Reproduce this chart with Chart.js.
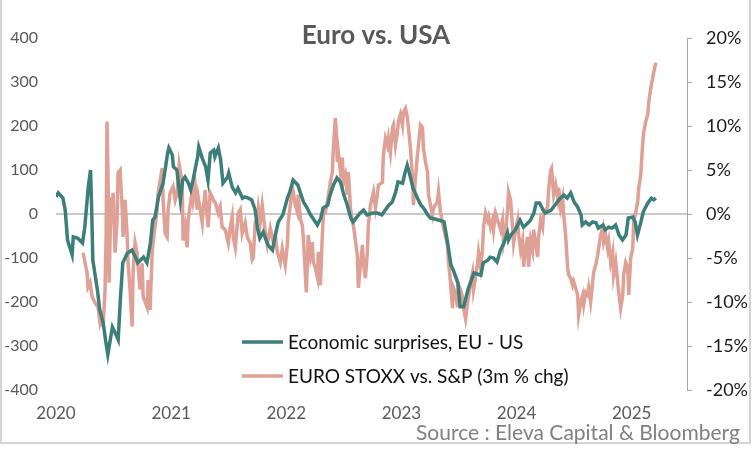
<!DOCTYPE html>
<html>
<head>
<meta charset="utf-8">
<script src="https://cdn.jsdelivr.net/npm/chart.js@4/dist/chart.umd.min.js"></script>
<style>
  html, body { margin: 0; padding: 0; background: #ffffff; }
  #wrap { width: 752px; height: 451px; }
</style>
</head>
<body>
<div id="wrap"><canvas id="c" width="752" height="451"></canvas></div>
<script>
// ---------------- DATA ----------------
const chartTitle = "Euro vs. USA";
const sourceText = "Source : Eleva Capital & Bloomberg";
const seriesLabels = ["Economic surprises, EU - US", "EURO STOXX vs. S&P (3m % chg)"];
const yearTicks = [2020, 2021, 2022, 2023, 2024, 2025];
const leftTicks = [-400, -300, -200, -100, 0, 100, 200, 300, 400];
const rightTicks = [-20, -15, -10, -5, 0, 5, 10, 15, 20];

// Economic surprises, EU - US (left axis), dates as decimal years
const surpriseDates = [
2020.00,2020.02,2020.06,2020.08,2020.10,2020.14,2020.15,2020.19,2020.23,2020.25,2020.28,2020.30,2020.31,2020.32,2020.36,2020.38,2020.41,2020.43,2020.45,2020.49,
2020.51,2020.54,2020.56,2020.58,2020.62,2020.66,2020.69,2020.71,2020.76,2020.79,2020.82,2020.84,2020.86,2020.89,2020.93,2020.97,2020.98,2021.01,2021.02,2021.05,
2021.08,2021.10,2021.12,2021.15,2021.17,2021.19,2021.23,2021.24,2021.27,2021.30,2021.32,2021.34,2021.37,2021.38,2021.41,2021.43,2021.45,2021.49,2021.50,2021.53,
2021.56,2021.58,2021.62,2021.64,2021.67,2021.70,2021.73,2021.75,2021.77,2021.80,2021.84,2021.88,2021.90,2021.93,2021.97,2022.01,2022.03,2022.06,2022.10,2022.12,
2022.15,2022.18,2022.21,2022.23,2022.27,2022.30,2022.32,2022.36,2022.38,2022.41,2022.44,2022.47,2022.50,2022.53,2022.56,2022.58,2022.64,2022.67,2022.70,2022.75,
2022.79,2022.83,2022.86,2022.89,2022.92,2022.95,2022.97,2023.01,2023.03,2023.05,2023.08,2023.10,2023.14,2023.17,2023.19,2023.23,2023.25,2023.30,2023.37,2023.40,
2023.43,2023.45,2023.49,2023.51,2023.54,2023.58,2023.63,2023.69,2023.71,2023.75,2023.77,2023.80,2023.83,2023.86,2023.89,2023.92,2023.93,2023.95,2023.99,2024.03,
2024.06,2024.10,2024.12,2024.15,2024.17,2024.20,2024.23,2024.25,2024.30,2024.32,2024.38,2024.41,2024.44,2024.47,2024.50,2024.53,2024.56,2024.57,2024.60,2024.63,
2024.66,2024.69,2024.71,2024.75,2024.77,2024.80,2024.83,2024.86,2024.89,2024.92,2024.95,2024.97,2025.01,2025.03,2025.05,2025.08,2025.10,2025.14,2025.17,2025.19,
2025.21
];
const surpriseValues = [
39,48,36,9,-59,-93,-52,-55,-66,-30,61,100,9,-105,-173,-218,-248,-286,-320,-257,
-268,-286,-189,-111,-89,-82,-98,-111,-98,-111,-66,-14,-7,39,70,139,150,134,107,100,
32,77,84,70,55,77,130,152,127,107,77,139,145,130,150,123,70,84,93,61,
48,59,36,39,36,32,9,-32,-55,-41,-70,-82,-55,-18,-2,36,50,77,66,50,
27,14,-2,-9,-25,-9,14,20,43,66,82,73,43,20,-9,-18,2,9,-2,2,
2,-2,9,20,27,50,73,70,93,111,82,59,36,20,14,-2,-9,-12,-18,-64,
-116,-127,-157,-211,-211,-170,-134,-139,-111,-105,-98,-100,-109,-82,-66,-43,-59,-48,-36,-14,
-30,-20,-14,2,25,25,9,2,9,16,36,43,36,48,27,16,-2,-25,-18,-25,
-18,-20,-32,-25,-36,-30,-32,-25,-48,-59,-48,-9,-7,-18,-48,-18,5,25,36,32,
36
];

// EURO STOXX vs. S&P, 3m % change (right axis), dates as decimal years
const stoxxDates = [
2020.235,2020.270,2020.278,2020.296,2020.313,2020.339,2020.365,2020.383,2020.400,2020.409,2020.426,2020.435,2020.443,2020.452,2020.461,2020.478,2020.487,2020.496,2020.513,2020.530,
2020.539,2020.557,2020.574,2020.583,2020.600,2020.617,2020.626,2020.643,2020.661,2020.670,2020.687,2020.704,2020.713,2020.730,2020.748,2020.757,2020.791,2020.800,2020.817,2020.835,
2020.843,2020.878,2020.887,2020.922,2020.930,2020.948,2020.965,2020.974,2020.991,2021.017,2021.035,2021.052,2021.070,2021.096,2021.104,2021.122,2021.139,2021.148,2021.183,2021.191,
2021.209,2021.226,2021.235,2021.270,2021.278,2021.296,2021.313,2021.322,2021.339,2021.357,2021.365,2021.383,2021.409,2021.426,2021.443,2021.470,2021.496,2021.513,2021.530,2021.539,
2021.557,2021.583,2021.600,2021.617,2021.643,2021.661,2021.687,2021.704,2021.713,2021.730,2021.748,2021.757,2021.774,2021.791,2021.817,2021.835,2021.861,2021.887,2021.904,2021.922,
2021.948,2021.965,2021.991,2022.009,2022.017,2022.035,2022.052,2022.061,2022.078,2022.096,2022.104,2022.122,2022.139,2022.148,2022.174,2022.191,2022.209,2022.226,2022.235,2022.252,
2022.270,2022.278,2022.296,2022.313,2022.322,2022.339,2022.357,2022.383,2022.400,2022.409,2022.426,2022.435,2022.443,2022.452,2022.470,2022.487,2022.496,2022.513,2022.530,2022.539,
2022.557,2022.574,2022.583,2022.617,2022.626,2022.643,2022.661,2022.670,2022.687,2022.704,2022.713,2022.730,2022.757,2022.774,2022.791,2022.800,2022.835,2022.843,2022.861,2022.878,
2022.887,2022.904,2022.922,2022.930,2022.948,2022.965,2022.974,2022.991,2023.009,2023.017,2023.035,2023.052,2023.061,2023.078,2023.096,2023.104,2023.122,2023.139,2023.148,2023.165,
2023.183,2023.191,2023.209,2023.226,2023.235,2023.252,2023.270,2023.278,2023.313,2023.322,2023.339,2023.365,2023.400,2023.409,2023.426,2023.443,2023.452,2023.470,2023.487,2023.496,
2023.513,2023.530,2023.539,2023.557,2023.574,2023.583,2023.600,2023.617,2023.626,2023.643,2023.661,2023.670,2023.687,2023.704,2023.713,2023.730,2023.748,2023.757,2023.774,2023.791,
2023.800,2023.817,2023.843,2023.861,2023.878,2023.887,2023.904,2023.922,2023.930,2023.948,2023.965,2023.974,2023.991,2024.009,2024.017,2024.035,2024.052,2024.061,2024.078,2024.096,
2024.104,2024.122,2024.139,2024.148,2024.165,2024.183,2024.191,2024.209,2024.226,2024.235,2024.270,2024.278,2024.296,2024.304,2024.313,2024.322,2024.339,2024.357,2024.365,2024.383,
2024.400,2024.409,2024.426,2024.443,2024.452,2024.470,2024.487,2024.496,2024.513,2024.530,2024.539,2024.557,2024.574,2024.583,2024.600,2024.617,2024.626,2024.643,2024.661,2024.670,
2024.687,2024.704,2024.713,2024.730,2024.748,2024.757,2024.774,2024.791,2024.800,2024.817,2024.835,2024.843,2024.861,2024.878,2024.887,2024.904,2024.922,2024.930,2024.948,2024.965,
2024.974,2024.991,2025.009,2025.017,2025.035,2025.052,2025.061,2025.078,2025.096,2025.104,2025.122,2025.139,2025.148,2025.165,2025.183,2025.191,2025.209
];
const stoxxValues = [
-4.4,-6.7,-8.3,-7.8,-9.4,-10.1,-10.6,-12.4,-11.7,-12.8,-8.6,-2.6,10.5,4.2,-7.8,1.9,-1.0,2.4,-4.4,-0.7,
4.7,5.0,0.8,-2.6,1.6,-2.2,-5.6,-8.6,-12.8,-6.4,-3.3,-4.4,-6.0,-8.6,-5.6,-9.4,-10.6,-7.5,-10.9,-4.4,
-3.3,0.5,2.4,5.2,1.6,-2.2,-2.6,0.5,2.4,3.1,1.6,2.4,5.6,3.5,-3.0,-1.5,-3.8,-0.7,2.7,1.6,
3.1,0.5,1.9,-1.0,0.5,2.7,-0.3,-1.5,2.4,1.9,1.6,1.3,0.1,0.8,-1.5,-1.8,-3.3,-1.5,-0.3,-2.6,
-3.8,0.1,0.5,-2.2,-1.0,-2.6,-3.3,-5.2,-5.0,-1.0,-0.5,0.7,-0.9,1.0,-2.0,-3.5,-1.6,-3.2,-2.4,-4.3,
-5.5,-3.9,-5.8,-3.5,-0.9,1.0,3.0,2.5,1.0,0.2,2.2,-0.5,-1.3,-2.7,-8.9,-2.4,-4.7,-3.2,-5.5,-6.1,
-7.2,-4.3,-8.1,-2.4,-0.1,0.2,1.4,3.6,4.8,7.5,10.9,9.3,5.9,7.0,4.8,6.4,3.6,4.4,2.2,4.8,
0.7,-0.9,-1.3,-4.7,-8.4,-6.1,-3.5,-5.5,-7.3,-4.3,-1.3,1.0,2.5,0.7,2.2,3.3,3.6,6.7,8.6,7.8,
8.6,7.0,9.8,10.1,7.8,9.3,10.5,11.3,10.1,11.6,12.0,10.9,9.8,7.5,4.1,1.0,4.1,6.7,7.8,10.1,
9.8,7.5,5.9,4.8,2.2,1.0,-0.1,0.7,1.4,2.5,0.2,-1.6,-3.5,-5.5,-7.7,-10.7,-8.4,-9.0,-10.6,-8.0,
-8.6,-9.4,-10.6,-11.9,-10.1,-9.4,-7.8,-6.7,-8.6,-7.2,-5.6,-4.4,-6.0,-4.1,-1.5,0.1,-0.7,-0.3,-1.5,-0.7,
-1.8,0.1,-1.0,-1.8,-0.7,-3.3,-2.2,0.5,2.5,1.6,-1.5,-3.3,-1.8,-0.7,-2.2,-4.1,-3.0,-6.0,-4.1,-2.6,
-6.0,-3.0,-4.1,-1.8,-3.3,-4.9,-2.6,-0.7,-1.5,0.1,0.8,2.7,5.0,5.2,3.6,2.2,3.3,1.8,3.0,0.7,
1.8,-0.1,-2.4,-6.1,-6.9,-7.3,-8.1,-7.7,-8.4,-9.2,-11.5,-10.0,-9.2,-10.3,-8.9,-9.2,-8.4,-10.0,-7.7,-6.6,
-5.8,-4.7,-3.9,-2.4,-1.6,-3.2,-2.4,-3.9,-3.2,-5.5,-4.3,-6.9,-5.5,-7.7,-8.9,-10.7,-9.2,-6.9,-5.5,-6.1,
-9.2,-5.0,-3.9,-0.9,0.2,1.4,3.0,4.4,8.2,9.3,10.5,11.3,12.7,14.3,15.5,16.1,17.2
];

// ---------------- CHART ----------------
const FONT = "Lato, 'Open Sans', 'DejaVu Sans', sans-serif";
const GREEN = "#3c7f79";
const PINK = "#dfa096";
const AREA = { left: 56, right: 687, top: 38, bottom: 390 };
const W = 752, H = 451;

const toXY = (xs, ys) => xs.map((x, i) => ({ x: x, y: ys[i] }));

const decorPlugin = {
  id: 'decor',
  beforeDraw(chart) {
    const ctx = chart.ctx;
    ctx.save();
    ctx.fillStyle = '#ffffff';
    ctx.fillRect(0, 0, W, H);
    ctx.restore();
  },
  afterDraw(chart) {
    const ctx = chart.ctx;
    ctx.save();
    // frame
    ctx.strokeStyle = '#d4d4d4';
    ctx.lineWidth = 2;
    ctx.strokeRect(1, -5, W - 3, H - 3);
    // title
    ctx.fillStyle = '#595959';
    ctx.font = "bold 26px " + FONT;
    ctx.textAlign = 'center';
    ctx.textBaseline = 'alphabetic';
    ctx.fillText(chartTitle, 376, 44);
    // legend
    const ds = chart.data.datasets;
    const rows = [342, 376];
    ds.forEach((d, i) => {
      ctx.strokeStyle = d.borderColor;
      ctx.lineWidth = 3.5;
      ctx.beginPath();
      ctx.moveTo(242, rows[i]);
      ctx.lineTo(283, rows[i]);
      ctx.stroke();
      ctx.fillStyle = '#111111';
      ctx.font = "19px " + FONT;
      ctx.textAlign = 'left';
      ctx.textBaseline = 'middle';
      ctx.fillText(d.label, 288, rows[i] + 1);
    });
    // source
    ctx.fillStyle = '#808080';
    ctx.font = "21px " + FONT;
    ctx.textAlign = 'left';
    ctx.textBaseline = 'alphabetic';
    ctx.fillText(sourceText, 416, 440);
    ctx.restore();
  }
};

new Chart(document.getElementById('c'), {
  type: 'line',
  data: {
    datasets: [
      {
        label: seriesLabels[0],
        data: toXY(surpriseDates, surpriseValues),
        yAxisID: 'yL',
        borderColor: GREEN,
        borderWidth: 3.5,
        pointRadius: 0,
        tension: 0,
        fill: false
      },
      {
        label: seriesLabels[1],
        data: toXY(stoxxDates, stoxxValues),
        yAxisID: 'yR',
        borderColor: PINK,
        borderWidth: 3.5,
        pointRadius: 0,
        tension: 0,
        fill: false
      }
    ]
  },
  options: {
    responsive: false,
    animation: false,
    events: [],
    layout: { padding: { top: AREA.top, left: 0, right: 0, bottom: 0 } },
    plugins: { legend: { display: false }, title: { display: false }, tooltip: { enabled: false } },
    scales: {
      x: {
        type: 'linear',
        min: 2020,
        max: 2025.48,
        afterBuildTicks: s => { s.ticks = yearTicks.map(v => ({ value: v })); },
        afterFit: s => { s.height = H - AREA.bottom; },
        grid: { display: false, drawTicks: false },
        border: { display: false },
        ticks: {
          padding: 13,
          maxRotation: 0,
          autoSkip: false,
          color: '#595959',
          font: { family: FONT, size: 17 },
          callback: v => String(v)
        }
      },
      yL: {
        type: 'linear',
        position: 'left',
        min: -400,
        max: 400,
        afterBuildTicks: s => { s.ticks = leftTicks.map(v => ({ value: v })); },
        afterFit: s => { s.width = AREA.left; },
        grid: {
          drawTicks: false,
          lineWidth: 2,
          color: c => (c.tick && c.tick.value === 0) ? '#c9c9c9' : 'rgba(0,0,0,0)'
        },
        border: { display: false },
        ticks: {
          padding: 18,
          color: '#595959',
          font: { family: FONT, size: 16 },
          callback: v => String(v)
        }
      },
      yR: {
        type: 'linear',
        position: 'right',
        min: -20,
        max: 20,
        afterBuildTicks: s => { s.ticks = rightTicks.map(v => ({ value: v })); },
        afterFit: s => { s.width = W - AREA.right; },
        grid: {
          drawOnChartArea: false,
          drawTicks: true,
          tickLength: 5,
          color: '#a6a6a6',
          lineWidth: 1
        },
        border: { display: true, color: '#a6a6a6', width: 1 },
        ticks: {
          padding: 14,
          color: '#1a1a1a',
          font: { family: FONT, size: 18 },
          callback: v => v + '%'
        }
      }
    }
  },
  plugins: [decorPlugin]
});
</script>
</body>
</html>
